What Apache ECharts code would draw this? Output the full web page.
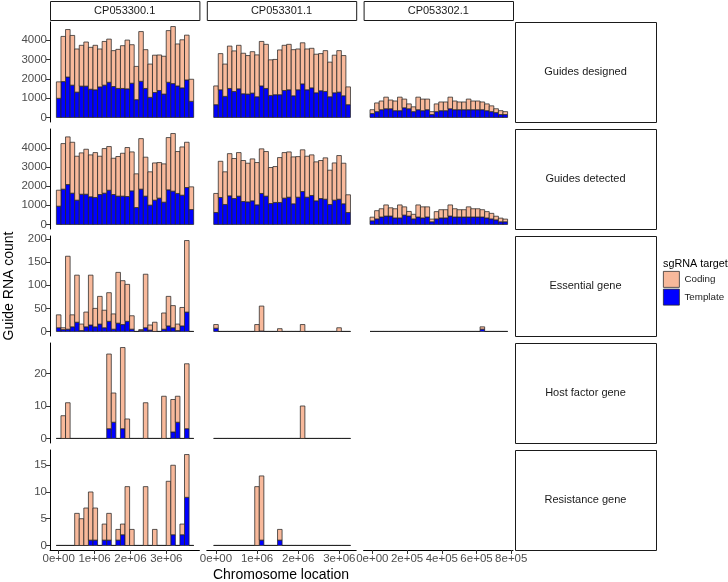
<!DOCTYPE html>
<html>
<head>
<meta charset="utf-8">
<script src="https://cdn.jsdelivr.net/npm/echarts@6/dist/echarts.min.js"></script>
<style>
html, body { margin: 0; background: #fff; }
#chart { width: 728px; height: 582px; }
</style>
</head>
<body>
<div id="chart"></div>
<script>
var chromosomes = ['CP053300.1', 'CP053301.1', 'CP053302.1'];
var measures = ['Guides designed', 'Guides detected', 'Essential gene', 'Host factor gene', 'Resistance gene'];
var binWidth = [127500, 110900, 26400];
var xTicks = [[0, 1e6, 2e6, 3e6], [0, 1e6, 2e6, 3e6], [0, 2e5, 4e5, 6e5, 8e5]];
var yTicks = [[0, 1000, 2000, 3000, 4000], [0, 1000, 2000, 3000, 4000], [0, 50, 100, 150, 200], [0, 10, 20], [0, 5, 10, 15]];

// CP053300.1
var designedCoding300 = [850,2335,2455,2570,2230,2110,2280,2165,2300,1960,2260,2230,1855,2020,2210,2520,1990,1720,2570,2005,1720,1930,1835,1955,2670,2950,2170,2485,2315,1140];
var designedTemplate300 = [990,1855,2090,1670,1310,1620,1620,1460,1430,1580,1670,1820,1600,1500,1500,1480,1770,920,1870,1500,1040,1290,1395,1210,1820,1750,1630,1530,1940,835];
var detectedCoding300 = [835,2380,2490,2660,2295,2160,2350,2190,2345,2000,2330,2280,1895,2070,2240,2560,2035,1760,2640,2035,1740,1945,1860,2000,2730,3010,2190,2520,2365,1185];
var detectedTemplate300 = [955,1845,2085,1635,1270,1580,1580,1445,1410,1565,1635,1790,1565,1480,1480,1460,1755,885,1845,1480,1010,1270,1375,1165,1810,1740,1620,1530,1930,780];
var essentialCoding300 = [28,4,158,26,102,14,32,108,40,60,38,62,33,110,95,80,29,0,2,116,11,20,0,35,64,48,14,40,155,0];
var essentialTemplate300 = [8,4,5,10,20,2,10,14,10,16,8,22,5,18,15,22,5,0,2,8,3,0,0,5,12,8,2,12,42,0];
var hostCoding300 = [0,7,11,0,0,0,0,0,0,0,0,23,9,0,25,6,0,0,0,11,0,0,0,13,0,10,8,0,20,0];
var hostTemplate300 = [0,0,0,0,0,0,0,0,0,0,0,3,5,0,3,0,0,0,0,0,0,0,0,0,0,2,5,0,3,0];
var resistCoding300 = [0,0,0,0,6,5,7,9,6,0,3,5,0,2,2,11,3,0,0,11,0,3,0,0,12,13,0,2,8,0];
var resistTemplate300 = [0,0,0,0,0,0,0,1,1,0,1,1,0,1,2,0,0,0,0,0,0,0,0,0,0,2,0,2,9,0];

// CP053301.1
var designedCoding301 = [970,1870,1670,2190,2095,2250,2095,1990,2140,2165,2300,2280,1840,1825,2315,2335,2350,2385,2110,2125,2110,2045,1995,1920,2110,1790,1945,2145,2080,920];
var designedTemplate301 = [660,1430,1090,1500,1345,1480,1225,1210,1260,1070,1630,1500,1140,1175,1175,1395,1430,1120,1430,1735,1430,1530,1275,1380,1345,1070,1275,1310,1120,660];
var detectedCoding301 = [995,1890,1705,2205,2090,2275,2140,2020,2190,2210,2330,2330,1880,1875,2345,2380,2365,2450,2120,2180,2140,2120,2035,1985,2160,1790,1945,2280,2120,925];
var detectedTemplate301 = [625,1410,1045,1495,1355,1480,1200,1180,1235,1025,1620,1480,1095,1150,1150,1375,1425,1080,1425,1720,1425,1515,1235,1355,1320,1045,1270,1320,1080,625];
var essentialCoding301 = [8,0,0,0,0,0,0,0,0,15,54,0,0,0,6,0,0,0,0,15,0,0,0,0,0,0,0,8,0,0];
var essentialTemplate301 = [7,0,0,0,0,0,0,0,0,0,1,0,0,0,0,0,0,0,0,0,0,0,0,0,0,0,0,0,0,0];
var hostCoding301 = [0,0,0,0,0,0,0,0,0,0,0,0,0,0,0,0,0,0,0,10,0,0,0,0,0,0,0,0,0,0];
var hostTemplate301 = [0,0,0,0,0,0,0,0,0,0,0,0,0,0,0,0,0,0,0,0,0,0,0,0,0,0,0,0,0,0];
var resistCoding301 = [0,0,0,0,0,0,0,0,0,11,12,0,0,0,2,0,0,0,0,0,0,0,0,0,0,0,0,0,0,0];
var resistTemplate301 = [0,0,0,0,0,0,0,0,0,0,1,0,0,0,1,0,0,0,0,0,0,0,0,0,0,0,0,0,0,0];

// CP053302.1
var designedCoding302 = [200,450,450,600,450,500,700,450,250,250,650,600,550,150,400,450,450,600,450,400,400,550,450,450,400,350,300,200,200,150];
var designedTemplate302 = [200,300,400,450,450,350,350,500,450,300,400,350,400,150,300,350,350,450,400,400,400,400,400,400,400,350,300,250,150,150];
var detectedCoding302 = [190,430,430,580,430,480,680,430,240,240,630,580,530,140,380,430,430,580,430,380,380,530,430,430,380,330,290,190,190,140];
var detectedTemplate302 = [190,290,390,440,440,340,340,490,440,290,390,340,390,140,290,340,340,440,390,390,390,390,390,390,390,340,290,240,140,140];
var essentialCoding302 = [0,0,0,0,0,0,0,0,0,0,0,0,0,0,0,0,0,0,0,0,0,0,0,0,5,0,0,0,0,0];
var essentialTemplate302 = [0,0,0,0,0,0,0,0,0,0,0,0,0,0,0,0,0,0,0,0,0,0,0,0,5,0,0,0,0,0];

var panelData = [
    [[designedCoding300, designedTemplate300], [designedCoding301, designedTemplate301], [designedCoding302, designedTemplate302]],
    [[detectedCoding300, detectedTemplate300], [detectedCoding301, detectedTemplate301], [detectedCoding302, detectedTemplate302]],
    [[essentialCoding300, essentialTemplate300], [essentialCoding301, essentialTemplate301], [essentialCoding302, essentialTemplate302]],
    [[hostCoding300, hostTemplate300], [hostCoding301, hostTemplate301], null],
    [[resistCoding300, resistTemplate300], [resistCoding301, resistTemplate301], null]
];

// layout (pixels)
var colLeft = [50, 206.8, 363.6];
var colW = 149.4;
var rowTop = [22, 129, 236, 343, 450];
var rowH = 100;
var xRange = [[-241600, 3921100], [-223800, 3411200], [-50100, 810000]];

var codingColor = '#F8B99B';
var templateColor = '#0000FF';
var outline = '#262626';
var axisGrey = '#4D4D4D';
var font = 'Liberation Sans, Arial, sans-serif';

function sci(v) {
    if (v === 0) return '0e+00';
    var e = Math.floor(Math.log10(v));
    var m = Math.round(v / Math.pow(10, e));
    return m + 'e' + (e < 0 ? '-' : '+') + (e < 10 ? '0' : '') + e;
}

function plain(v) {
    return String(v);
}

function renderBar(params, api) {
    var p0 = api.coord([api.value(0), api.value(2)]);
    var p1 = api.coord([api.value(1), api.value(3)]);
    return {
        type: 'rect',
        shape: { x: p0[0], y: p1[1], width: p1[0] - p0[0], height: p0[1] - p1[1] },
        style: { fill: api.visual('color'), stroke: outline, lineWidth: 0.75 }
    };
}

var grids = [], xAxes = [], yAxes = [], series = [], graphics = [];

for (var r = 0; r < measures.length; r++) {
    var rowMax = 0;
    for (var c = 0; c < chromosomes.length; c++) {
        var d = panelData[r][c];
        if (!d) continue;
        for (var i = 0; i < d[0].length; i++) rowMax = Math.max(rowMax, d[0][i] + d[1][i]);
    }
    for (var c = 0; c < chromosomes.length; c++) {
        var idx = grids.length;
        grids.push({ left: colLeft[c], top: rowTop[r], width: colW, height: rowH });
        var bottom = r === measures.length - 1;
        xAxes.push({
            type: 'value', gridIndex: idx, min: xRange[c][0], max: xRange[c][1],
            show: bottom,
            splitLine: { show: false },
            axisLine: { show: bottom, onZero: false, lineStyle: { color: '#000', width: 1 } },
            axisTick: { show: bottom, length: 4, customValues: xTicks[c], lineStyle: { color: '#333' } },
            axisLabel: { show: bottom, customValues: xTicks[c], formatter: sci, color: axisGrey, fontSize: 11.5, fontFamily: font, margin: 3 }
        });
        var leftCol = c === 0;
        yAxes.push({
            type: 'value', gridIndex: idx, min: -0.05 * rowMax, max: 1.05 * rowMax,
            show: leftCol,
            splitLine: { show: false },
            axisLine: { show: leftCol, onZero: false, lineStyle: { color: '#000', width: 1 } },
            axisTick: { show: leftCol, length: 4, customValues: yTicks[r], lineStyle: { color: '#333' } },
            axisLabel: { show: leftCol, customValues: yTicks[r], formatter: plain, color: axisGrey, fontSize: 11.5, fontFamily: font, margin: 3 }
        });
        var d = panelData[r][c];
        if (!d) continue;
        var w = binWidth[c];
        var tData = [], cData = [];
        for (var i = 0; i < d[0].length; i++) {
            var x0 = (i - 0.5) * w, x1 = (i + 0.5) * w;
            tData.push([x0, x1, 0, d[1][i]]);
            cData.push([x0, x1, d[1][i], d[1][i] + d[0][i]]);
        }
        series.push({ name: 'Template', type: 'custom', xAxisIndex: idx, yAxisIndex: idx, renderItem: renderBar,
            itemStyle: { color: templateColor }, encode: { x: [0, 1], y: [2, 3] }, data: tData, silent: true, clip: false });
        series.push({ name: 'Coding', type: 'custom', xAxisIndex: idx, yAxisIndex: idx, renderItem: renderBar,
            itemStyle: { color: codingColor }, encode: { x: [0, 1], y: [2, 3] }, data: cData, silent: true, clip: false });
    }
    // right strip
    graphics.push({ type: 'rect', left: 515, top: rowTop[r], shape: { width: 141, height: rowH },
        style: { fill: '#fff', stroke: '#1a1a1a', lineWidth: 1 } });
    graphics.push({ type: 'text', x: 585.5, y: rowTop[r] + rowH / 2,
        style: { text: measures[r], fill: '#1a1a1a', font: '11px ' + font, align: 'center', verticalAlign: 'middle' } });
}

for (var c = 0; c < chromosomes.length; c++) {
    graphics.push({ type: 'rect', left: colLeft[c], top: 1, shape: { width: colW, height: 19 },
        style: { fill: '#fff', stroke: '#1a1a1a', lineWidth: 1 } });
    graphics.push({ type: 'text', x: colLeft[c] + colW / 2, y: 10.5,
        style: { text: chromosomes[c], fill: '#1a1a1a', font: '11px ' + font, align: 'center', verticalAlign: 'middle' } });
}

graphics.push({ type: 'text', x: 9, y: 286, rotation: Math.PI / 2,
    style: { text: 'Guide RNA count', fill: '#000', font: '14px ' + font, align: 'center', verticalAlign: 'middle' } });
graphics.push({ type: 'text', x: 281, y: 575,
    style: { text: 'Chromosome location', fill: '#000', font: '14px ' + font, align: 'center', verticalAlign: 'middle' } });
graphics.push({ type: 'text', x: 663, y: 264,
    style: { text: 'sgRNA target', fill: '#000', font: '10.8px ' + font, align: 'left', verticalAlign: 'middle' } });

var chart = echarts.init(document.getElementById('chart'), null, { renderer: 'canvas' });
chart.setOption({
    animation: false,
    backgroundColor: '#fff',
    grid: grids,
    xAxis: xAxes,
    yAxis: yAxes,
    legend: {
        data: ['Coding', 'Template'], orient: 'vertical', left: 663, top: 271, padding: 0,
        itemWidth: 16, itemHeight: 16, itemGap: 1, selectedMode: false, icon: 'rect',
        itemStyle: { borderColor: outline, borderWidth: 0.75 },
        textStyle: { fontSize: 9.8, color: '#1a1a1a', fontFamily: font }
    },
    series: series,
    graphic: graphics
});
</script>
</body>
</html>
